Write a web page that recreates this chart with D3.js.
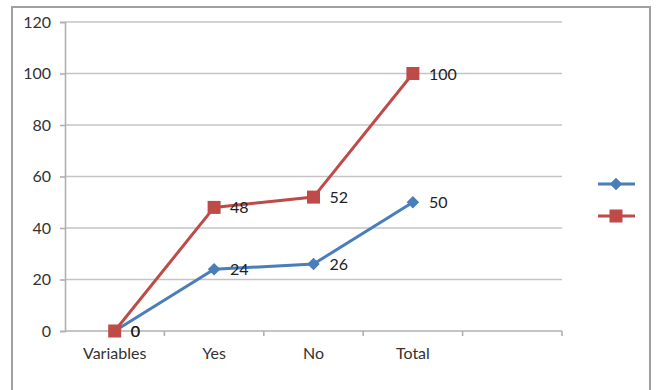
<!DOCTYPE html>
<html>
<head>
<meta charset="utf-8">
<script src="https://cdn.jsdelivr.net/npm/d3@7"></script>
<style>
  body { margin: 0; background: #fff; }
  svg text { font-family: Lato, "Open Sans", sans-serif; }
</style>
</head>
<body>
<div id="chart"></div>
<script>
// categories (the 5th slot is empty in the original chart)
const categories = ["Variables", "Yes", "No", "Total", ""];
const series1 = [0, 24, 26, 50];   // blue diamonds
const series2 = [0, 48, 52, 100];  // red squares
const yTicks = [0, 20, 40, 60, 80, 100, 120];

const W = 658, H = 390;
const plot = { left: 65, right: 562, top: 22, bottom: 331 };

const svg = d3.select("#chart").append("svg")
  .attr("width", W).attr("height", H);

// outer chart frame
svg.append("rect")
  .attr("x", 12).attr("y", 7)
  .attr("width", 638).attr("height", 390)
  .attr("fill", "#fff")
  .attr("stroke", "#a0a0a0")
  .attr("stroke-width", 2);

const x = d3.scaleBand().domain(categories.map((c, i) => i))
  .range([plot.left, plot.right]).padding(0);
const y = d3.scaleLinear().domain([0, 120]).range([plot.bottom, plot.top]);
const cx = i => x(i) + x.bandwidth() / 2;

// gridlines
svg.append("g").selectAll("line")
  .data(yTicks.filter(t => t > 0))
  .join("line")
  .attr("x1", plot.left).attr("x2", plot.right)
  .attr("y1", d => y(d)).attr("y2", d => y(d))
  .attr("stroke", "#c4c4c4").attr("stroke-width", 1.6);

// y axis
const yAxis = svg.append("g")
  .attr("transform", `translate(${plot.left},0)`)
  .call(d3.axisLeft(y).tickValues(yTicks).tickSize(5).tickPadding(9));
yAxis.select(".domain").attr("stroke", "#b0b0b0").attr("stroke-width", 1.6);
yAxis.selectAll(".tick line").attr("stroke", "#b0b0b0").attr("stroke-width", 1.6);
yAxis.selectAll("text")
  .attr("font-size", 16).attr("font-family", "Lato, sans-serif")
  .attr("fill", "#333");

// x axis: ticks sit between categories
const xAxisG = svg.append("g");
xAxisG.append("line")
  .attr("x1", plot.left).attr("x2", plot.right)
  .attr("y1", plot.bottom).attr("y2", plot.bottom)
  .attr("stroke", "#b0b0b0").attr("stroke-width", 1.6);
xAxisG.selectAll(".xtick")
  .data(d3.range(1, categories.length + 1))
  .join("line")
  .attr("x1", i => x.step() * i + plot.left)
  .attr("x2", i => x.step() * i + plot.left)
  .attr("y1", plot.bottom).attr("y2", plot.bottom + 5)
  .attr("stroke", "#b0b0b0").attr("stroke-width", 1.6);
xAxisG.selectAll(".xlab")
  .data(categories)
  .join("text")
  .attr("x", (d, i) => cx(i))
  .attr("y", plot.bottom + 28)
  .attr("text-anchor", "middle")
  .attr("font-size", 16)
  .attr("fill", "#333")
  .text(d => d);

const line = d3.line().x((d, i) => cx(i)).y(d => y(d));

// series 1 - blue
svg.append("path").datum(series1)
  .attr("d", line).attr("fill", "none")
  .attr("stroke", "#4a7ebb").attr("stroke-width", 3);

// series 2 - red
svg.append("path").datum(series2)
  .attr("d", line).attr("fill", "none")
  .attr("stroke", "#be4b48").attr("stroke-width", 3);

const diamond = d3.symbol().type(d3.symbolDiamond2).size(100);

svg.append("g").selectAll("path")
  .data(series1)
  .join("path")
  .attr("d", diamond)
  .attr("transform", (d, i) => `translate(${cx(i)},${y(d)})`)
  .attr("fill", "#4a7ebb");

svg.append("g").selectAll("rect")
  .data(series2)
  .join("rect")
  .attr("x", (d, i) => cx(i) - 6.5)
  .attr("y", d => y(d) - 6.5)
  .attr("width", 13).attr("height", 13)
  .attr("fill", "#be4b48");

// data labels
function labels(data) {
  svg.append("g").selectAll("text")
    .data(data)
    .join("text")
    .attr("x", (d, i) => cx(i) + 16)
    .attr("y", d => y(d))
    .attr("dy", "0.38em")
    .attr("font-size", 16)
    .attr("fill", "#222")
    .text(d => d);
}
labels(series1);
labels(series2);

// legend (no series names)
const legend = svg.append("g");
const legY = [184, 216];
legend.append("line")
  .attr("x1", 598).attr("x2", 635).attr("y1", legY[0]).attr("y2", legY[0])
  .attr("stroke", "#4a7ebb").attr("stroke-width", 3);
legend.append("path")
  .attr("d", diamond)
  .attr("transform", `translate(616,${legY[0]})`)
  .attr("fill", "#4a7ebb");
legend.append("line")
  .attr("x1", 598).attr("x2", 635).attr("y1", legY[1]).attr("y2", legY[1])
  .attr("stroke", "#be4b48").attr("stroke-width", 3);
legend.append("rect")
  .attr("x", 609.5).attr("y", legY[1] - 6.5)
  .attr("width", 13).attr("height", 13)
  .attr("fill", "#be4b48");
</script>
</body>
</html>
